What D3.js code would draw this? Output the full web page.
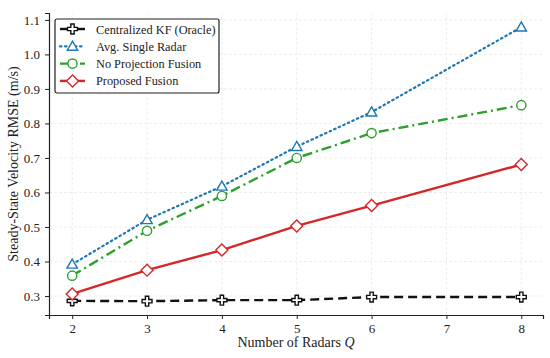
<!DOCTYPE html>
<html>
<head>
<meta charset="utf-8">
<script src="https://cdn.jsdelivr.net/npm/d3@7"></script>
<style>
  body { margin: 0; background: #fff; }
  svg text { font-family: "Liberation Serif", "Times New Roman", Times, serif; fill: #222; }
</style>
</head>
<body>
<div id="chart"></div>
<script>
// data
const radars = [2, 3, 4, 5, 6, 8];
const centralized = [0.286, 0.285, 0.288, 0.288, 0.297, 0.297];
const avgSingle = [0.392, 0.521, 0.618, 0.733, 0.833, 1.079];
const noProjection = [0.359, 0.489, 0.590, 0.700, 0.772, 0.853];
const proposed = [0.306, 0.375, 0.433, 0.503, 0.562, 0.681];
const xTicks = [2, 3, 4, 5, 6, 7, 8];
const yTicks = [0.3, 0.4, 0.5, 0.6, 0.7, 0.8, 0.9, 1.0, 1.1];

const series = [
  { name: 'Centralized KF (Oracle)', values: centralized, color: '#111', dash: '9,5', marker: 'plus' },
  { name: 'Avg. Single Radar', values: avgSingle, color: '#1f77b4', dash: '1.5,3.5', marker: 'triangle' },
  { name: 'No Projection Fusion', values: noProjection, color: '#2ca02c', dash: '10,4,2,4', marker: 'circle' },
  { name: 'Proposed Fusion', values: proposed, color: '#d62728', dash: null, marker: 'diamond' }
];

const width = 550, height = 358;
const margin = { top: 13, right: 7, bottom: 43, left: 49 };
const font = '"Liberation Serif", "Times New Roman", Times, serif';

const svg = d3.select('#chart').append('svg')
  .attr('width', width)
  .attr('height', height)
  .attr('font-family', font);

const x = d3.scaleLinear().domain([1.69, 8.29]).range([margin.left, width - margin.right]);
const y = d3.scaleLinear().domain([0.245, 1.12]).range([height - margin.bottom, margin.top]);

// grid
const grid = svg.append('g').attr('stroke', '#e8e8e8').attr('stroke-width', 0.8).attr('stroke-dasharray', '3,2');
grid.selectAll('.gx').data(xTicks).enter().append('line')
  .attr('x1', d => x(d)).attr('x2', d => x(d))
  .attr('y1', y.range()[0]).attr('y2', y.range()[1]);
grid.selectAll('.gy').data(yTicks).enter().append('line')
  .attr('x1', x.range()[0]).attr('x2', x.range()[1])
  .attr('y1', d => y(d)).attr('y2', d => y(d));

// axes
const xAxis = svg.append('g')
  .attr('transform', 'translate(0,' + y.range()[0] + ')')
  .call(d3.axisBottom(x).tickValues(xTicks).tickFormat(d3.format('d')).tickSize(4).tickPadding(5));
const yAxis = svg.append('g')
  .attr('transform', 'translate(' + x.range()[0] + ',0)')
  .call(d3.axisLeft(y).tickValues(yTicks).tickFormat(d3.format('.1f')).tickSize(4).tickPadding(5));
[xAxis, yAxis].forEach(function (a) {
  a.attr('font-family', font);
  a.select('.domain').attr('stroke', '#222').attr('stroke-width', 1.2);
  a.selectAll('.tick line').attr('stroke', '#222').attr('stroke-width', 1);
  a.selectAll('.tick text').style('font-size', '13px').attr('fill', '#222');
});

// labels
svg.append('text')
  .attr('x', (x.range()[0] + x.range()[1]) / 2)
  .attr('y', height - 11)
  .attr('text-anchor', 'middle')
  .style('font-size', '14px')
  .html('Number of Radars <tspan font-style="italic">Q</tspan>');
svg.append('text')
  .attr('transform', 'translate(18,' + (y.range()[0] + y.range()[1]) / 2 + ') rotate(-90)')
  .attr('text-anchor', 'middle')
  .style('font-size', '14px')
  .text('Steady-State Velocity RMSE (m/s)');

// markers
function drawMarker(g, type, color, cx, cy) {
  if (type === 'circle') {
    g.append('circle').attr('cx', cx).attr('cy', cy).attr('r', 4.6)
      .attr('fill', '#fff').attr('stroke', color).attr('stroke-width', 1.4);
  } else if (type === 'triangle') {
    const s = 5.2;
    g.append('path')
      .attr('d', 'M' + cx + ',' + (cy - s) + 'L' + (cx + s) + ',' + (cy + s * 0.75) + 'L' + (cx - s) + ',' + (cy + s * 0.75) + 'Z')
      .attr('fill', '#fff').attr('stroke', color).attr('stroke-width', 1.4);
  } else if (type === 'diamond') {
    const s = 6;
    g.append('path')
      .attr('d', 'M' + cx + ',' + (cy - s) + 'L' + (cx + s) + ',' + cy + 'L' + cx + ',' + (cy + s) + 'L' + (cx - s) + ',' + cy + 'Z')
      .attr('fill', '#fff').attr('stroke', color).attr('stroke-width', 1.4);
  } else if (type === 'plus') {
    g.append('path')
      .attr('d', d3.symbol().type(d3.symbolCross).size(55)())
      .attr('transform', 'translate(' + cx + ',' + cy + ')')
      .attr('fill', '#fff').attr('stroke', color).attr('stroke-width', 1.4);
  }
}

const line = d3.line().x(d => x(d[0])).y(d => y(d[1]));
series.forEach(function (s) {
  const pts = radars.map((r, i) => [r, s.values[i]]);
  const g = svg.append('g');
  g.append('path')
    .datum(pts)
    .attr('d', line)
    .attr('fill', 'none')
    .attr('stroke', s.color)
    .attr('stroke-width', s.dash === '1.5,3.5' ? 2.2 : 2.4)
    .attr('stroke-linecap', s.dash === '1.5,3.5' ? 'round' : 'butt')
    .attr('stroke-dasharray', s.dash);
  pts.forEach(p => drawMarker(g, s.marker, s.color, x(p[0]), y(p[1])));
});

// legend
const lg = svg.append('g').attr('transform', 'translate(55,19)');
lg.append('rect').attr('x', 0).attr('y', 0).attr('width', 164).attr('height', 74)
  .attr('fill', '#fff').attr('stroke', '#222').attr('stroke-width', 1.2).attr('rx', 2);
series.forEach(function (s, i) {
  const ly = 10 + i * 17.3;
  lg.append('line')
    .attr('x1', 5).attr('x2', 30).attr('y1', ly).attr('y2', ly)
    .attr('stroke', s.color).attr('stroke-width', s.dash === '1.5,3.5' ? 2.2 : 2.4)
    .attr('stroke-linecap', s.dash === '1.5,3.5' ? 'round' : 'butt')
    .attr('stroke-dasharray', s.dash === '9,5' ? null : s.dash);
  drawMarker(lg, s.marker, s.color, 17.5, ly);
  lg.append('text').attr('x', 41).attr('y', ly + 4.5)
    .style('font-size', '12.3px').text(s.name);
});
</script>
</body>
</html>
